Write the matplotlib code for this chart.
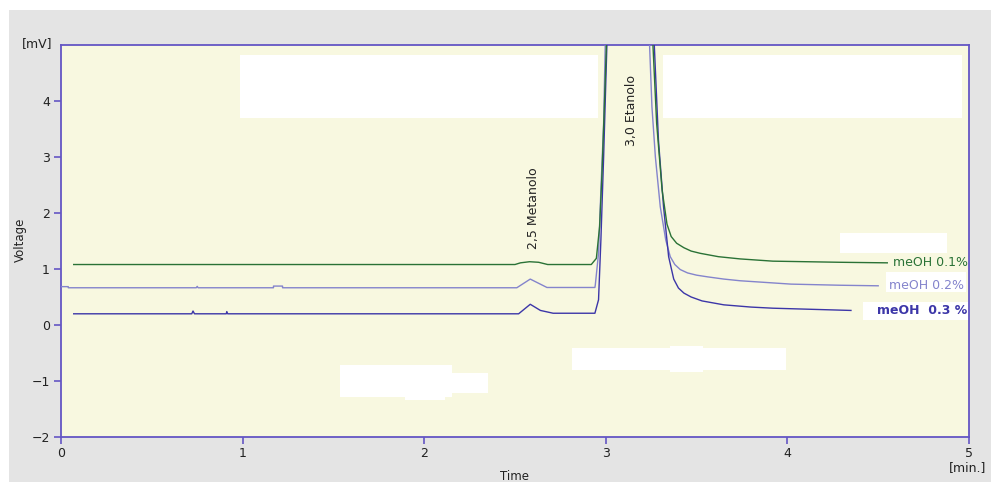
import numpy as np
import matplotlib
matplotlib.use("Agg")
import matplotlib.pyplot as plt
from matplotlib.patches import Rectangle

x_01 = [0.07, 2.50, 2.53, 2.58, 2.63, 2.68, 2.92, 2.948, 2.966, 2.979, 2.992, 3.003, 3.02,
        3.24, 3.26, 3.28, 3.31, 3.337, 3.36, 3.39, 3.43, 3.47, 3.52, 3.62, 3.74, 3.92,
        4.29, 4.55]
y_01 = [1.08, 1.08, 1.11, 1.13, 1.12, 1.08, 1.08, 1.19, 1.76, 2.71, 3.90, 4.97, 30.0,
        30.0, 4.97, 3.60, 2.41, 1.80, 1.58, 1.46, 1.38, 1.32, 1.28, 1.22, 1.18, 1.14,
        1.12, 1.11]

x_02 = [0.0, 0.04, 0.04, 0.745, 0.75, 0.755, 1.17, 1.17, 1.22, 1.22, 2.51, 2.584, 2.676,
        2.94, 2.942, 2.96, 2.973, 2.988, 3.0, 3.01, 3.23, 3.241, 3.254, 3.273, 3.30, 3.33,
        3.355, 3.38, 3.41, 3.45, 3.50, 3.56, 3.65, 3.74, 4.02, 4.29, 4.50]
y_02 = [0.685, 0.685, 0.665, 0.665, 0.69, 0.665, 0.665, 0.695, 0.695, 0.665, 0.665, 0.82, 0.67,
        0.67, 0.71, 1.28, 2.41, 3.60, 5.5, 30.0, 30.0, 5.0, 3.90, 3.00, 2.11, 1.52,
        1.22, 1.08, 0.99, 0.93, 0.89, 0.86, 0.82, 0.79, 0.73, 0.71, 0.70]

x_03 = [0.07, 0.72, 0.727, 0.735, 0.91, 0.913, 0.918, 2.52, 2.584, 2.64, 2.71, 2.94, 2.96,
        2.973, 2.988, 3.006, 3.02, 3.25, 3.267, 3.29, 3.318, 3.346, 3.374, 3.40, 3.43,
        3.47, 3.53, 3.65, 3.80, 3.92, 4.35]
y_03 = [0.20, 0.20, 0.25, 0.20, 0.20, 0.24, 0.20, 0.20, 0.37, 0.26, 0.21, 0.21, 0.45,
        1.52, 3.00, 5.00, 30.0, 30.0, 5.00, 3.30, 2.11, 1.22, 0.82, 0.66, 0.57,
        0.50, 0.43, 0.36, 0.32, 0.30, 0.26]

series_labels = ["meOH 0.1%", "meOH 0.2%", "meOH  0.3 %"]
peak_labels = ["2,5 Metanolo", "3,0 Etanolo"]
x_ticks = [0, 1, 2, 3, 4, 5]
y_ticks = [-2, -1, 0, 1, 2, 3, 4]

c_green = "#2a7236"
c_light = "#8484cc"
c_dark = "#3c36a8"
c_spine = "#6456c4"

fig = plt.figure(figsize=(9.91, 4.82), dpi=100)
fig.patch.set_facecolor("white")
# fondo gris de la ventana
fig.patches.append(Rectangle((9/991, 0), 1, 1 - 10/482, transform=fig.transFigure,
                             facecolor="#e4e4e4", edgecolor="none", zorder=-10))

ax = fig.add_axes([61/991, 1 - 437/482, 908/991, 392/482])
ax.set_facecolor("#f8f8e0")

# recuadros blancos (tapas de la imagen original), en coordenadas de datos
white_boxes = [
    (0.986, 3.70, 1.973, 1.12),
    (3.317, 3.70, 1.647, 1.12),
    (4.287, 1.29, 0.593, 0.35),
    (1.537, -1.28, 0.617, 0.57),
    (2.154, -1.21, 0.198, 0.36),
    (1.895, -1.34, 0.22, 0.1),
    (2.815, -0.80, 1.179, 0.39),
    (3.355, -0.84, 0.18, 0.46),
    (4.419, 0.09, 0.573, 0.32),
    (4.541, 0.59, 0.441, 0.36),
]
for (bx, by, bw, bh) in white_boxes:
    ax.add_patch(Rectangle((bx, by), bw, bh, facecolor="white", edgecolor="none", zorder=1))

ax.plot(x_02, y_02, color=c_light, lw=1.0, zorder=3)
ax.plot(x_01, y_01, color=c_green, lw=1.0, zorder=4)
ax.plot(x_03, y_03, color=c_dark, lw=1.0, zorder=3)

ax.set_xlim(0, 5)
ax.set_ylim(-2, 5)
ax.set_xticks(x_ticks)
ax.set_yticks(y_ticks)
for s in ax.spines.values():
    s.set_color(c_spine)
    s.set_linewidth(1.3)
ax.tick_params(direction="out", length=5, width=1.2, color=c_spine,
               labelsize=9, labelcolor="#222222", pad=3)
ax.tick_params(axis="x", pad=2)

# etiquetas de los picos
ax.text(2.60, 1.35, peak_labels[0], rotation=90, ha="center", va="bottom",
        fontsize=9, color="#222222", zorder=5)
ax.text(3.14, 3.2, peak_labels[1], rotation=90, ha="center", va="bottom",
        fontsize=9, color="#222222", zorder=5)

# nombres de las series
ax.text(4.58, 1.11, series_labels[0], ha="left", va="center", fontsize=9,
        color=c_green, zorder=5)
ax.text(4.56, 0.70, series_labels[1], ha="left", va="center", fontsize=9,
        color=c_light, zorder=5)
ax.text(4.99, 0.26, series_labels[2], ha="right", va="center", fontsize=9,
        color=c_dark, fontweight="bold", zorder=5)

# unidades y títulos de ejes
fig.text(37/991, 1 - 44/482, "[mV]", ha="center", va="center", fontsize=9, color="#222222")
fig.text(968/991, 1 - 468/482, "[min.]", ha="center", va="center", fontsize=9, color="#222222")
fig.text(514/991, 1 - 476/482, "Time", ha="center", va="center", fontsize=8.5, color="#222222")
fig.text(20/991, 1 - 240/482, "Voltage", ha="center", va="center", rotation=90,
         fontsize=8.5, color="#222222")

fig.savefig("out.png", dpi=100, facecolor=fig.get_facecolor())
